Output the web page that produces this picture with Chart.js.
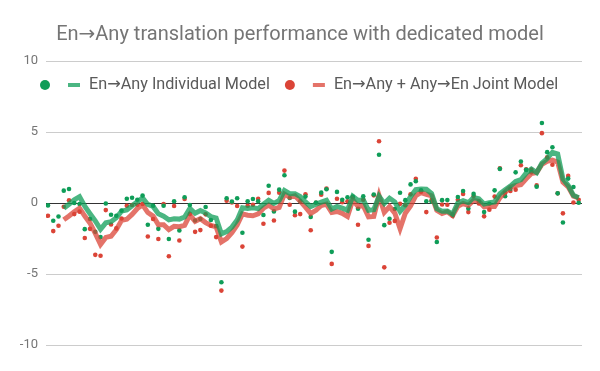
<!DOCTYPE html>
<html>
<head>
<meta charset="utf-8">
<script src="https://cdn.jsdelivr.net/npm/chart.js@4.4.1/dist/chart.umd.min.js"></script>
<style>
  html, body { margin: 0; padding: 0; background: #fff; }
</style>
</head>
<body>
<canvas id="perfChart" width="600" height="371"></canvas>
<script>
var titleText = "En→Any translation performance with dedicated model";
var seriesNames = ["En→Any Individual Model", "En→Any + Any→En Joint Model"];
var yTicks = [-10, -5, 0, 5, 10];

// one value per language pair, left to right
var individual = [
  -0.17, -1.25, -0.95, 0.87, 0.99, 0.0, -0.07, -1.84, -1.13, -2.03,
  -2.4, -0.03, -0.83, -0.9, -0.54, 0.30, 0.37, 0.23, 0.52, -1.53,
  -0.19, -1.82, -0.19, -2.54, 0.12, -1.93, 0.40, -0.14, -1.23, -1.13,
  -0.28, -1.2, -1.63, -5.58, 0.33, 0.1, 0.33, -2.1, 0.12, 0.28,
  0.12, -0.85, 1.22, -0.59, 0.94, 1.95, 0.35, -0.61, 0.12, 0.45,
  -0.98, 0.04, 0.73, 0.97, -3.44, 0.78, 0.23, 0.41, 0.45, -0.40,
  0.48, -2.59, 0.6, 3.40, -1.56, -1.11, -0.42, 0.72, 0.20, 1.31,
  1.53, 0.9, 0.12, 0.1, -2.75, 0.20, 0.21, -0.8, 0.42, 0.85,
  -0.38, 0.64, 0.1, -0.64, -0.05, 0.89, 2.4, 0.48, 1.0, 2.16,
  2.92, 2.33, 2.16, 1.15, 5.63, 3.58, 3.93, 0.68, -1.37, 1.72,
  1.13, 0.02
];
var joint = [
  -0.9, -1.98, -1.6, -0.26, 0.19, -0.78, -0.61, -2.47, -1.82, -3.65,
  -3.72, -0.5, -1.51, -1.79, -1.09, -0.19, -0.14, -0.12, -0.07, -2.36,
  -1.13, -2.54, -0.07, -3.75, -0.21, -2.64, 0.28, -0.78, -2.03, -1.91,
  -0.80, -1.6, -2.40, -6.17, 0.16, 0.04, -0.21, -3.07, -0.19, -0.12,
  0.30, -1.46, 0.71, -1.23, 0.73, 2.28, -0.12, -0.86, -0.78, 0.61,
  -1.92, 0.02, 0.58, 1.02, -4.29, 0.30, 0.05, 0.12, 0.40, -1.53,
  0.23, -3.02, 0.54, 4.35, -4.53, -1.39, -1.26, -0.06, -0.15, 0.61,
  1.70, 0.79, -0.64, 0.2, -2.43, -0.11, -0.12, -0.9, 0.23, 0.64,
  -0.64, 0.49, -0.03, -0.94, -0.47, 0.45, 2.44, 0.71, 0.85, 0.94,
  2.66, 2.37, 2.35, 1.24, 4.92, 3.22, 2.69, 0.68, -0.73, 1.91,
  0.04, 0.23
];

// trendline: moving average over 4 points, like the sheet's trendline setting
var trendPeriod = 4;

function toPoints(values) {
  return values.map(function (v, i) { return { x: i, y: v }; });
}

function movingAverage(values, period) {
  var out = [];
  for (var i = period - 1; i < values.length; i++) {
    var sum = 0;
    for (var k = i - period + 1; k <= i; k++) sum += values[k];
    out.push({ x: i, y: sum / period });
  }
  return out;
}

var green = "#0f9d58";
var red = "#db4437";
var greenLine = "rgba(15,157,88,0.75)";
var redLine = "rgba(219,68,55,0.75)";
var fontStack = "Roboto, 'Noto Sans', 'DejaVu Sans', sans-serif";

// legend drawn inside the plot, near the top, like the sheet does
var innerLegend = {
  id: "innerLegend",
  afterDraw: function (chart) {
    var ctx = chart.ctx;
    var y = 85;
    var x = 45;
    var items = [
      { dot: green, dash: greenLine, text: seriesNames[0] },
      { dot: red, dash: redLine, text: seriesNames[1] }
    ];
    ctx.save();
    ctx.font = "16.2px " + fontStack;
    ctx.textBaseline = "middle";
    items.forEach(function (it) {
      ctx.fillStyle = it.dot;
      ctx.beginPath();
      ctx.arc(x, y, 5, 0, Math.PI * 2);
      ctx.fill();
      ctx.fillStyle = it.dash;
      ctx.fillRect(x + 23, y - 2, 12, 4);
      ctx.fillStyle = "#5a5a5a";
      ctx.fillText(it.text, x + 44, y);
      x = x + 44 + ctx.measureText(it.text).width + 20;
    });
    ctx.restore();
  }
};

Chart.defaults.font.family = fontStack;

var ctx = document.getElementById("perfChart");
var perfChart = new Chart(ctx, {
  type: "scatter",
  data: {
    datasets: [
      {
        label: seriesNames[0] + " trend",
        data: movingAverage(individual, trendPeriod),
        showLine: true,
        borderColor: greenLine,
        borderWidth: 5,
        pointRadius: 0,
        tension: 0
      },
      {
        label: seriesNames[1] + " trend",
        data: movingAverage(joint, trendPeriod),
        showLine: true,
        borderColor: redLine,
        borderWidth: 5,
        pointRadius: 0,
        tension: 0
      },
      {
        label: seriesNames[0],
        data: toPoints(individual),
        backgroundColor: green,
        pointRadius: 2.3,
        pointBorderWidth: 0
      },
      {
        label: seriesNames[1],
        data: toPoints(joint),
        backgroundColor: red,
        pointRadius: 2.3,
        pointBorderWidth: 0
      }
    ]
  },
  options: {
    responsive: false,
    animation: false,
    layout: { padding: { left: 18, right: 18, top: 0, bottom: 26 } },
    plugins: {
      legend: { display: false },
      tooltip: { enabled: false },
      title: {
        display: true,
        text: titleText,
        color: "#757575",
        font: { size: 20, weight: "normal" },
        padding: { top: 23, bottom: 14 }
      }
    },
    scales: {
      x: {
        type: "linear",
        display: false,
        min: -0.38,
        max: 101.63
      },
      y: {
        min: -10,
        max: 10,
        afterFit: function (scale) { scale.width = 28; },
        afterBuildTicks: function (scale) {
          scale.ticks = yTicks.map(function (v) { return { value: v }; });
        },
        border: { display: false },
        grid: {
          drawTicks: false,
          color: function (c) { return c.tick && c.tick.value === 0 ? "#333333" : "#cccccc"; }
        },
        ticks: {
          color: "#757575",
          font: { size: 13 },
          padding: 8
        }
      }
    }
  },
  plugins: [innerLegend]
});
</script>
</body>
</html>
